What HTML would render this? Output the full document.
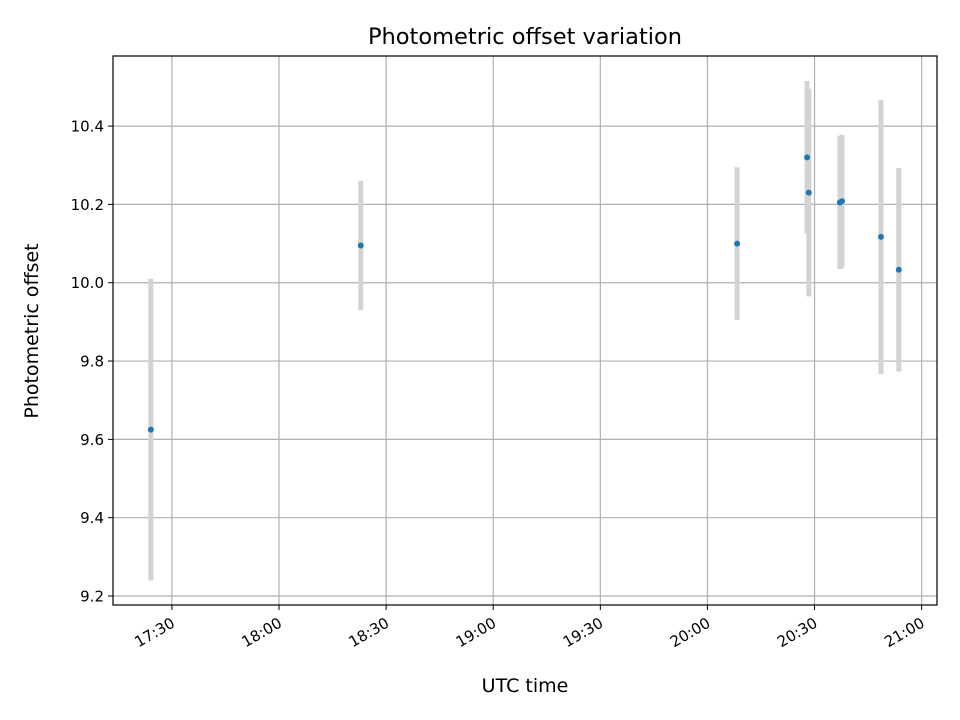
<!DOCTYPE html>
<html><head><meta charset="utf-8"><style>
body{margin:0;background:#fff;}
svg{display:block;font-family:"DejaVu Sans","Liberation Sans",sans-serif;}
</style></head><body>
<svg id="chart" width="960" height="720" xmlns="http://www.w3.org/2000/svg">
<text x="525" y="44" font-size="22.5" text-anchor="middle">Photometric offset variation</text>
<text x="525" y="692" font-size="19" text-anchor="middle">UTC time</text>
<text x="38" y="331" font-size="19" text-anchor="middle" transform="rotate(-90 38 331)">Photometric offset</text>
</svg>
<script>
// minutes since 17:30 UTC
const times = [-5.9, 52.9, 158.3, 177.9, 178.4, 187.1, 187.7, 198.6, 203.6];
const offsets = [9.625, 10.095, 10.1, 10.32, 10.23, 10.205, 10.208, 10.117, 10.033];
const errors = [0.385, 0.165, 0.195, 0.195, 0.265, 0.17, 0.17, 0.35, 0.26];
const xTickMinutes = [0, 30, 60, 90, 120, 150, 180, 210];
const xTickLabels = ["17:30","18:00","18:30","19:00","19:30","20:00","20:30","21:00"];
const yTicks = [9.2, 9.4, 9.6, 9.8, 10.0, 10.2, 10.4];

const L=113,R=937,T=56,B=605;
const xMin=-16.5,xMax=214.3,yMin=9.177,yMax=10.579;
const X=v=>L+(v-xMin)/(xMax-xMin)*(R-L);
const Y=v=>B-(v-yMin)/(yMax-yMin)*(B-T);
const svg=document.getElementById('chart');
const NS='http://www.w3.org/2000/svg';
function mk(tag,attrs){const e=document.createElementNS(NS,tag);for(const k in attrs)e.setAttribute(k,attrs[k]);svg.appendChild(e);return e;}

xTickMinutes.forEach((m,i)=>{
  const x=X(m);
  const g=mk('line',{x1:x,x2:x,y1:T,y2:B,stroke:'#b0b0b0','stroke-width':1.2});
  
  
  const t=mk('line',{x1:x,x2:x,y1:B,y2:B+5,stroke:'#000','stroke-width':1});
  
  
  const lb=mk('text',{x:x+4,y:B+21,'font-size':15,'text-anchor':'end',transform:`rotate(-30 ${x+4} ${B+21})`});
  lb.textContent=xTickLabels[i];
  
  
});
yTicks.forEach(v=>{
  const y=Y(v);
  const g=mk('line',{x1:L,x2:R,y1:y,y2:y,stroke:'#b0b0b0','stroke-width':1.2});
  
  
  const t=mk('line',{x1:L-5,x2:L,y1:y,y2:y,stroke:'#000','stroke-width':1});
  
  
  const lb=mk('text',{x:L-9,y:y+5.5,'font-size':15,'text-anchor':'end'});
  lb.textContent=v.toFixed(1);
  
  
});
times.forEach((m,i)=>{
  const x=X(m);
  const e=mk('line',{x1:x,x2:x,y1:Y(offsets[i]+errors[i]),y2:Y(offsets[i]-errors[i]),stroke:'#d3d3d3','stroke-width':5});
  
  
});
times.forEach((m,i)=>{
  const p=mk('circle',{cx:X(m),cy:Y(offsets[i]),r:3,fill:'#1f77b4'});
  
  
});
const f=mk('rect',{x:L,y:T,width:R-L,height:B-T,fill:'none',stroke:'#000','stroke-width':1.2});


</script>
</body></html>
